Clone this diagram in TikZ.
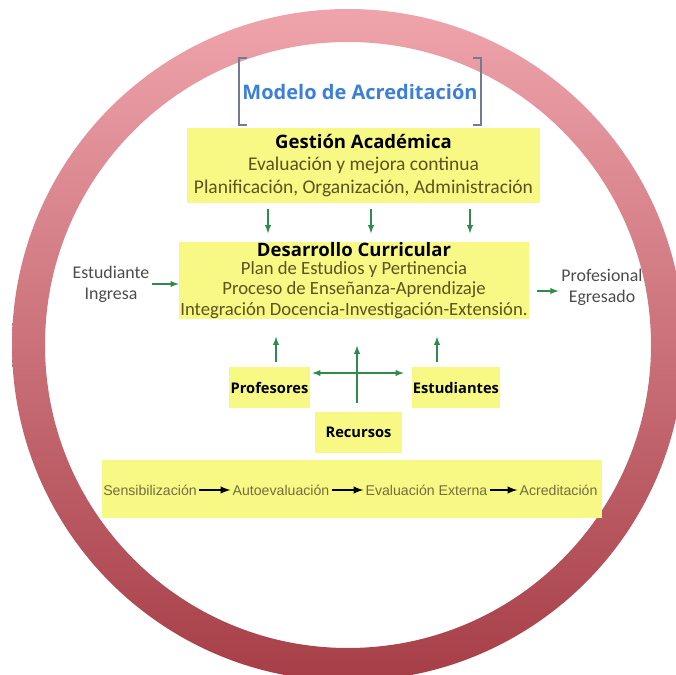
\documentclass[tikz,border=0pt]{standalone}
\usepackage{fontspec}
\setmainfont{Carlito}
\newfontfamily\headfont{Open Sans}
\newfontfamily\flowfont{Liberation Sans}
\usepackage{tikz}
\usetikzlibrary{positioning,calc}

\definecolor{ringtop}{HTML}{EFA4AC}
\definecolor{ringbot}{HTML}{A63E47}
\definecolor{boxyellow}{HTML}{F8F884}
\definecolor{arrgreen}{HTML}{2F8A4C}
\definecolor{titblue}{HTML}{3C7FD8}
\definecolor{brkgray}{HTML}{6F7C94}
\definecolor{olivetext}{HTML}{5A5420}

\tikzset{
  ybox/.style={fill=boxyellow, draw=none, inner sep=0pt, align=center},
  smallhead/.style={font=\headfont\bfseries\fontsize{11}{13}\selectfont},
  sidetxt/.style={font=\fontsize{13.4}{16}\selectfont, text=black!70, align=center, inner sep=2pt},
  garrow/.style={-latex, draw=arrgreen, line width=1.1pt},
  barrow/.style={-latex, draw=black, line width=1.5pt},
  brk/.style={draw=brkgray, line width=1.4pt},
  flowtxt/.style={font=\flowfont\fontsize{10.6}{12}\selectfont, text=olivetext!85, inner sep=1.5pt}
}

\begin{document}
\begin{tikzpicture}[x=0.75pt,y=0.75pt,yscale=-1,xscale=1]
\useasboundingbox (0,0) rectangle (676,675);

%Ring
\shade[top color=ringtop, bottom color=ringbot, even odd rule] (348,345) circle (336) (348,345) circle (303);

% Text Node
\node (tit) at (360,91.5) [minimum width=181.5pt, minimum height=50.25pt, inner sep=0pt, font=\headfont\bfseries\fontsize{15}{18}\selectfont, text=titblue] {Modelo de Acreditación};
\draw[brk] ($(tit.north west)+(8,0)$) -- (tit.north west) -- (tit.south west) -- ($(tit.south west)+(8,0)$);
\draw[brk] ($(tit.north east)+(-8,0)$) -- (tit.north east) -- (tit.south east) -- ($(tit.south east)+(-8,0)$);

% Gestion box
\node (ga) at (363.5,165.5) [ybox, minimum width=264.75pt, minimum height=56.25pt, font=\fontsize{14.6}{16.9}\selectfont, text=olivetext] {{\headfont\bfseries\fontsize{13.9}{16.9}\selectfont\color{black} Gestión Académica}\\
  Evaluación y mejora continua\\
  Planificación, Organización, Administración};

% Desarrollo box
\node (dc) at (354,280.5) [ybox, minimum width=262.5pt, minimum height=57.75pt, font=\fontsize{14}{15.4}\selectfont, text=olivetext] {{\headfont\bfseries\fontsize{13.9}{15.4}\selectfont\color{black} Desarrollo Curricular}\\[-2.5pt]
  Plan de Estudios y Pertinencia\\
  Proceso de Enseñanza-Aprendizaje\\
  Integración Docencia-Investigación-Extensión.};

% Side texts
\node (est) at (111,284) [sidetxt] {Estudiante\\Ingresa};
\node (egr) at (602,287) [sidetxt] {Profesional\\Egresado};

% Small boxes
\node (prof) at (269.5,387.5) [ybox, smallhead, minimum width=60.75pt, minimum height=30.75pt] {Profesores};
\node (estu) at (456,387.5) [ybox, smallhead, minimum width=66pt, minimum height=30.75pt] {Estudiantes};
\node (rec) at (358.5,432.5) [ybox, smallhead, minimum width=65.25pt, minimum height=30.75pt] {Recursos};

% Bottom box
\node (proc) at (352,489) [ybox, minimum width=375pt, minimum height=43.5pt] {};
\node (s1) at (150,490) [flowtxt] {Sensibilización};
\node (s2) at (281,490) [flowtxt] {Autoevaluación};
\node (s3) at (426.5,490) [flowtxt] {Evaluación Externa};
\node (s4) at (558.5,490) [flowtxt] {Acreditación};

%Straight Lines
\foreach \dx in {-95.5,7.5,106.5}
  \draw[garrow] ($(ga.south)+(\dx,6)$) -- ($(ga.south)+(\dx,30)$);
\draw[garrow] (est.east) -- (est.east -| dc.west);
\draw[garrow, shorten <=6pt] ($(dc.east |- egr.west)+(0,4)$) -- ($(egr.west)+(0,4)$);
\draw[garrow] ($(prof.north)+(6.5,-5)$) -- ($(prof.north)+(6.5,-30)$);
\draw[garrow] ($(estu.north)+(-19,-5)$) -- ($(estu.north)+(-19,-30)$);
\draw[garrow] ($(rec.north)+(-1.5,-9)$) -- ($(rec.north)+(-1.5,-66)$);
\draw[garrow, latex-latex] ($(prof.east)+(2,-14.5)$) -- ($(estu.west)+(-8,-14.5)$);

\draw[barrow] (s1) -- (s2);
\draw[barrow] (s2) -- (s3);
\draw[barrow] (s3) -- (s4);
\end{tikzpicture}
\end{document}
